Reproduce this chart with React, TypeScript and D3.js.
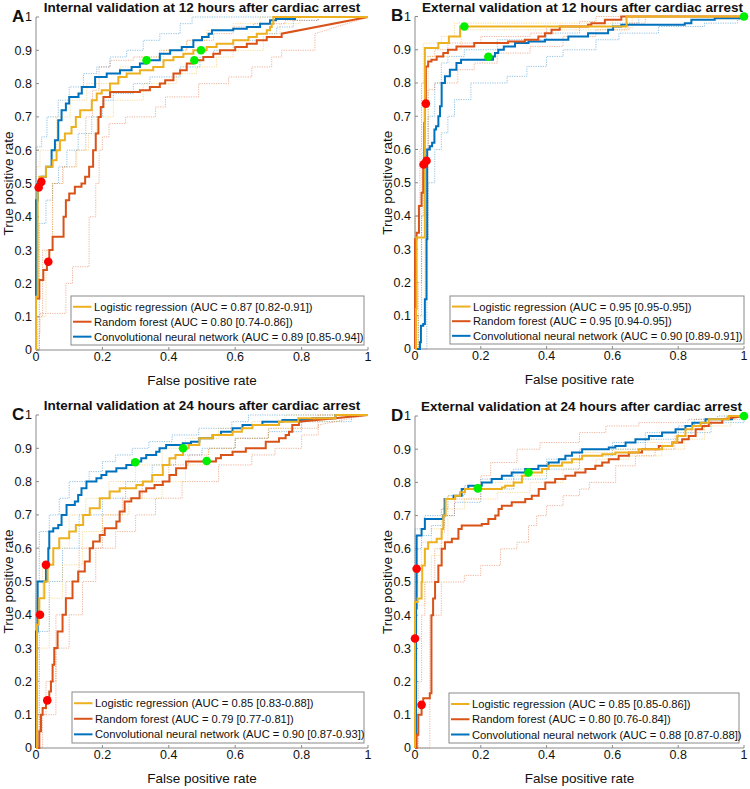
import React from "react";
import * as d3 from "d3";

type P = number[];

// ---------- Panel A: internal validation, 12 h ----------
const aLR: P[] = [[0,0],[0,0.16],[0.005,0.49],[0.01,0.52],[0.03,0.55],[0.05,0.57],[0.062,0.6],[0.072,0.63],[0.087,0.65],[0.107,0.67],[0.12,0.7],[0.133,0.72],[0.168,0.75],[0.183,0.77],[0.198,0.78],[0.223,0.8],[0.248,0.82],[0.273,0.83],[0.313,0.84],[0.353,0.85],[0.384,0.87],[0.414,0.88],[0.444,0.89],[0.474,0.9],[0.514,0.91],[0.544,0.92],[0.594,0.93],[0.64,0.94],[0.665,0.95],[0.695,0.96],[0.705,0.97],[0.71,0.98],[0.715,1],[1,1]];
const aRF: P[] = [[0,0],[0,0.155],[0.01,0.21],[0.022,0.24],[0.033,0.265],[0.04,0.3],[0.05,0.34],[0.083,0.4],[0.09,0.45],[0.1,0.47],[0.117,0.49],[0.137,0.5],[0.148,0.52],[0.16,0.55],[0.172,0.6],[0.18,0.65],[0.188,0.7],[0.195,0.73],[0.203,0.76],[0.223,0.775],[0.313,0.78],[0.343,0.79],[0.373,0.8],[0.389,0.81],[0.414,0.83],[0.434,0.84],[0.454,0.86],[0.474,0.87],[0.504,0.88],[0.534,0.89],[0.554,0.9],[0.6,0.91],[0.635,0.92],[0.665,0.93],[0.695,0.94],[0.74,0.95],[1,1,1]];
const aCNN: P[] = [[0,0],[0,0.45],[0.005,0.5],[0.017,0.52],[0.03,0.55],[0.047,0.6],[0.057,0.63],[0.067,0.69],[0.077,0.72],[0.09,0.74],[0.1,0.76],[0.128,0.77],[0.138,0.79],[0.178,0.82],[0.213,0.83],[0.253,0.84],[0.288,0.85],[0.313,0.86],[0.333,0.87],[0.373,0.89],[0.404,0.9],[0.439,0.91],[0.474,0.93],[0.5,0.94],[0.52,0.95],[0.53,0.96],[0.594,0.965],[0.635,0.97],[0.675,0.98],[0.705,0.99],[0.723,0.994],[0.78,1],[1,1]];
const aLRlo: P[] = [[0,0],[0.01,0.1],[0.03,0.3],[0.05,0.5],[0.083,0.55],[0.123,0.6],[0.158,0.65],[0.183,0.7],[0.233,0.75],[0.323,0.8],[0.424,0.83],[0.484,0.85],[0.544,0.88],[0.594,0.9],[0.685,0.95],[0.735,0.98],[0.795,1],[1,1]];
const aLRhi: P[] = [[0,0],[0,0.55],[0.012,0.6],[0.062,0.7],[0.103,0.75],[0.153,0.8],[0.253,0.85],[0.313,0.88],[0.384,0.9],[0.454,0.93],[0.514,0.96],[0.594,0.98],[0.675,1],[1,1]];
const aRFlo: P[] = [[0,0],[0.01,0.05],[0.012,0.11],[0.09,0.2],[0.11,0.25],[0.16,0.4],[0.18,0.5],[0.19,0.6],[0.2,0.64],[0.22,0.68],[0.27,0.7],[0.36,0.73],[0.39,0.76],[0.49,0.8],[0.58,0.82],[0.65,0.85],[0.71,0.88],[0.74,0.9],[0.84,0.95],[1,1,1]];
const aRFhi: P[] = [[0,0],[0.005,0.1],[0.02,0.3],[0.05,0.5],[0.08,0.55],[0.12,0.6],[0.15,0.7],[0.17,0.78],[0.19,0.85],[0.223,0.87],[0.293,0.88],[0.373,0.9],[0.454,0.93],[0.535,0.95],[0.594,0.97],[0.655,0.98],[0.75,0.99],[0.85,1],[1,1]];
const aCNNlo: P[] = [[0,0],[0.01,0.38],[0.03,0.45],[0.05,0.5],[0.068,0.55],[0.093,0.6],[0.127,0.65],[0.168,0.7],[0.2,0.75],[0.233,0.77],[0.293,0.8],[0.343,0.82],[0.434,0.85],[0.494,0.88],[0.535,0.9],[0.594,0.93],[0.665,0.95],[0.725,0.97],[0.775,0.99],[0.85,1],[1,1]];
const aCNNhi: P[] = [[0,0],[0,0.61],[0.017,0.64],[0.033,0.7],[0.067,0.75],[0.1,0.79],[0.143,0.83],[0.183,0.85],[0.223,0.88],[0.273,0.9],[0.323,0.93],[0.373,0.95],[0.434,0.98],[0.47,1],[1,1]];
const aRed: P[] = [[0.008,0.488],[0.016,0.505],[0.037,0.265]];
const aGreen: P[] = [[0.333,0.87],[0.477,0.87],[0.497,0.9]];
const aAUC = ["0.87 [0.82-0.91]", "0.80 [0.74-0.86]", "0.89 [0.85-0.94]"];

// ---------- Panel B: external validation, 12 h ----------
const bLR: P[] = [[0,0],[0.003,0.12],[0.005,0.335],[0.03,0.905],[0.071,0.92],[0.103,0.94],[0.137,0.97],[0.643,1],[1,1]];
const bRF: P[] = [[0,0],[0,0.33],[0.005,0.35],[0.012,0.43],[0.02,0.47],[0.025,0.55],[0.028,0.68],[0.03,0.74],[0.033,0.85],[0.04,0.865],[0.05,0.87],[0.066,0.88],[0.086,0.89],[0.1,0.9],[0.126,0.91],[0.18,0.92],[0.283,0.925],[0.334,0.93],[0.375,0.94],[0.395,0.95],[0.415,0.96],[0.44,0.97],[0.526,0.975],[0.536,0.98],[0.577,0.99],[0.627,1],[1,1]];
const bCNN: P[] = [[0,0],[0.01,0],[0.015,0.02],[0.018,0.07],[0.025,0.075],[0.03,0.15],[0.035,0.33],[0.037,0.6],[0.045,0.61],[0.052,0.62],[0.059,0.66],[0.064,0.67],[0.071,0.7],[0.076,0.73],[0.081,0.8],[0.091,0.82],[0.106,0.84],[0.126,0.86],[0.14,0.87],[0.237,0.88],[0.243,0.89],[0.253,0.9],[0.27,0.91],[0.304,0.92],[0.345,0.925],[0.395,0.93],[0.466,0.94],[0.526,0.95],[0.587,0.96],[0.602,0.97],[0.627,0.975],[0.82,0.98],[0.84,0.99],[0.911,0.995],[1,1]];
const bLRlo: P[] = [[0,0],[0.01,0.1],[0.03,0.33],[0.04,0.88],[0.1,0.9],[0.14,0.96],[0.64,0.965],[0.66,1],[1,1]];
const bLRhi: P[] = [[0,0],[0,0.4],[0.02,0.8],[0.025,0.92],[0.08,0.94],[0.12,0.98],[0.6,0.99],[0.64,1],[1,1]];
const bRFlo: P[] = [[0,0],[0.01,0.2],[0.02,0.4],[0.03,0.6],[0.04,0.78],[0.06,0.8],[0.13,0.84],[0.18,0.86],[0.25,0.89],[0.35,0.91],[0.45,0.94],[0.55,0.96],[0.65,0.98],[0.7,1],[1,1]];
const bRFhi: P[] = [[0,0],[0,0.4],[0.015,0.6],[0.02,0.8],[0.03,0.88],[0.06,0.9],[0.1,0.92],[0.2,0.94],[0.35,0.95],[0.4,0.97],[0.5,0.985],[0.55,1],[1,1]];
const bCNNlo: P[] = [[0,0],[0.035,0],[0.036,0.33],[0.04,0.5],[0.06,0.6],[0.08,0.65],[0.1,0.7],[0.12,0.75],[0.17,0.8],[0.28,0.82],[0.34,0.85],[0.4,0.88],[0.45,0.9],[0.55,0.93],[0.62,0.95],[0.74,0.97],[0.88,0.98],[0.98,0.99],[1,1]];
const bCNNhi: P[] = [[0,0],[0.01,0.1],[0.02,0.4],[0.025,0.6],[0.04,0.7],[0.06,0.8],[0.08,0.86],[0.1,0.88],[0.15,0.9],[0.25,0.93],[0.4,0.95],[0.5,0.97],[0.6,0.98],[0.68,1],[1,1]];
const bRed: P[] = [[0.026,0.555],[0.035,0.566],[0.033,0.738]];
const bGreen: P[] = [[0.15,0.97],[0.223,0.879],[1,1]];
const bAUC = ["0.95 [0.95-0.95]", "0.95 [0.94-0.95]", "0.90 [0.89-0.91]"];

// ---------- Panel C: internal validation, 24 h ----------
const cLR: P[] = [[0,0],[0.003,0.37],[0.008,0.4],[0.01,0.45],[0.025,0.5],[0.035,0.55],[0.052,0.6],[0.07,0.63],[0.1,0.65],[0.12,0.67],[0.142,0.7],[0.162,0.72],[0.192,0.75],[0.222,0.77],[0.252,0.78],[0.302,0.79],[0.322,0.8],[0.35,0.82],[0.382,0.85],[0.402,0.87],[0.42,0.88],[0.443,0.9],[0.46,0.91],[0.492,0.93],[0.532,0.94],[0.592,0.95],[0.62,0.96],[0.652,0.97],[0.732,0.98],[0.79,0.99],[0.902,1],[1,1]];
const cRF: P[] = [[0,0],[0.005,0],[0.01,0.05],[0.015,0.1],[0.02,0.12],[0.03,0.14],[0.04,0.17],[0.045,0.2],[0.05,0.25],[0.055,0.3],[0.065,0.35],[0.08,0.4],[0.09,0.45],[0.11,0.5],[0.127,0.53],[0.147,0.56],[0.162,0.6],[0.172,0.62],[0.192,0.64],[0.207,0.66],[0.242,0.68],[0.252,0.71],[0.267,0.74],[0.287,0.75],[0.312,0.77],[0.332,0.78],[0.357,0.79],[0.382,0.8],[0.402,0.82],[0.422,0.84],[0.452,0.86],[0.542,0.87],[0.557,0.88],[0.592,0.89],[0.632,0.9],[0.692,0.92],[0.732,0.93],[0.752,0.94],[0.762,0.95],[0.772,0.97],[0.792,0.98],[1,1,1]];
const cCNN: P[] = [[0,0],[0,0.35],[0.005,0.5],[0.03,0.55],[0.037,0.6],[0.04,0.65],[0.052,0.66],[0.067,0.67],[0.077,0.7],[0.092,0.73],[0.117,0.74],[0.127,0.76],[0.137,0.78],[0.152,0.8],[0.182,0.81],[0.197,0.82],[0.212,0.83],[0.242,0.84],[0.272,0.85],[0.29,0.86],[0.317,0.87],[0.332,0.88],[0.362,0.89],[0.372,0.9],[0.392,0.91],[0.442,0.915],[0.467,0.92],[0.492,0.93],[0.532,0.94],[0.557,0.95],[0.592,0.96],[0.622,0.97],[0.682,0.98],[0.742,0.985],[0.832,0.99],[0.902,1],[1,1]];
const cLRlo: P[] = [[0,0],[0.01,0.3],[0.04,0.45],[0.08,0.55],[0.14,0.65],[0.2,0.7],[0.28,0.75],[0.38,0.8],[0.45,0.85],[0.52,0.9],[0.6,0.93],[0.7,0.96],[0.8,0.98],[0.92,1],[1,1]];
const cLRhi: P[] = [[0,0],[0,0.45],[0.02,0.55],[0.04,0.6],[0.1,0.7],[0.15,0.75],[0.22,0.8],[0.3,0.85],[0.38,0.9],[0.45,0.93],[0.55,0.96],[0.65,0.98],[0.75,1],[1,1]];
const cRFlo: P[] = [[0,0],[0.02,0.1],[0.06,0.3],[0.1,0.4],[0.14,0.5],[0.18,0.6],[0.24,0.65],[0.3,0.7],[0.36,0.75],[0.44,0.8],[0.55,0.85],[0.65,0.88],[0.72,0.9],[0.8,0.94],[0.85,0.97],[1,1,1]];
const cRFhi: P[] = [[0,0],[0.01,0.1],[0.03,0.2],[0.06,0.4],[0.09,0.5],[0.13,0.6],[0.2,0.7],[0.26,0.75],[0.32,0.8],[0.4,0.85],[0.46,0.88],[0.52,0.9],[0.6,0.93],[0.7,0.96],[0.85,1],[1,1]];
const cCNNlo: P[] = [[0,0],[0.01,0.35],[0.04,0.5],[0.08,0.6],[0.13,0.7],[0.2,0.75],[0.27,0.8],[0.35,0.85],[0.42,0.88],[0.5,0.9],[0.6,0.93],[0.7,0.95],[0.8,0.98],[0.95,1],[1,1]];
const cCNNhi: P[] = [[0,0],[0,0.5],[0.01,0.65],[0.04,0.7],[0.07,0.75],[0.1,0.8],[0.16,0.83],[0.2,0.86],[0.24,0.88],[0.29,0.9],[0.34,0.92],[0.41,0.94],[0.49,0.96],[0.59,0.98],[0.64,1],[1,1]];
const cRed: P[] = [[0.012,0.4],[0.03,0.55],[0.034,0.143]];
const cGreen: P[] = [[0.299,0.858],[0.443,0.9],[0.514,0.862]];
const cAUC = ["0.85 [0.83-0.88]", "0.79 [0.77-0.81]", "0.90 [0.87-0.93]"];

// ---------- Panel D: external validation, 24 h ----------
const dLR: P[] = [[0,0],[0,0.44],[0.008,0.45],[0.02,0.5],[0.022,0.55],[0.03,0.6],[0.04,0.62],[0.066,0.63],[0.081,0.66],[0.086,0.7],[0.093,0.75],[0.122,0.76],[0.137,0.77],[0.152,0.78],[0.264,0.785],[0.274,0.79],[0.3,0.8],[0.325,0.82],[0.345,0.83],[0.386,0.84],[0.406,0.85],[0.447,0.86],[0.477,0.87],[0.508,0.88],[0.569,0.885],[0.609,0.89],[0.68,0.9],[0.751,0.91],[0.782,0.92],[0.797,0.94],[0.822,0.96],[0.843,0.97],[0.868,0.98],[0.893,0.99],[0.954,1],[1,1]];
const dRF: P[] = [[0,0],[0.005,0.04],[0.01,0.1],[0.02,0.13],[0.025,0.15],[0.045,0.165],[0.05,0.4],[0.055,0.45],[0.061,0.5],[0.071,0.55],[0.081,0.6],[0.091,0.62],[0.112,0.63],[0.132,0.66],[0.142,0.67],[0.203,0.675],[0.223,0.69],[0.244,0.7],[0.254,0.72],[0.264,0.73],[0.294,0.74],[0.335,0.75],[0.355,0.76],[0.376,0.78],[0.396,0.8],[0.426,0.81],[0.457,0.82],[0.487,0.83],[0.518,0.84],[0.548,0.85],[0.569,0.86],[0.589,0.87],[0.619,0.88],[0.65,0.89],[0.69,0.9],[0.741,0.91],[0.782,0.92],[0.812,0.93],[0.832,0.94],[0.853,0.96],[0.873,0.97],[0.893,0.98],[0.934,0.99],[1,1,1]];
const dCNN: P[] = [[0,0],[0.003,0.42],[0.005,0.64],[0.02,0.66],[0.03,0.69],[0.085,0.7],[0.09,0.75],[0.117,0.76],[0.142,0.78],[0.162,0.79],[0.203,0.8],[0.233,0.81],[0.264,0.82],[0.294,0.83],[0.335,0.84],[0.375,0.85],[0.406,0.86],[0.437,0.87],[0.457,0.88],[0.477,0.89],[0.508,0.9],[0.589,0.905],[0.609,0.91],[0.64,0.92],[0.67,0.93],[0.711,0.94],[0.751,0.95],[0.792,0.96],[0.822,0.97],[0.843,0.98],[0.883,0.99],[0.964,1],[1,1]];
const dLRlo: P[] = [[0,0],[0.005,0.43],[0.03,0.5],[0.05,0.58],[0.08,0.62],[0.1,0.72],[0.15,0.75],[0.25,0.77],[0.35,0.8],[0.45,0.84],[0.55,0.87],[0.65,0.88],[0.75,0.9],[0.82,0.93],[0.88,0.97],[0.96,1],[1,1]];
const dLRhi: P[] = [[0,0],[0,0.47],[0.01,0.55],[0.02,0.62],[0.05,0.66],[0.08,0.72],[0.1,0.76],[0.15,0.78],[0.2,0.8],[0.3,0.82],[0.4,0.86],[0.5,0.89],[0.6,0.9],[0.7,0.92],[0.8,0.96],[0.88,0.99],[0.94,1],[1,1]];
const dRFlo: P[] = [[0,0],[0.045,0.4],[0.08,0.5],[0.15,0.52],[0.2,0.55],[0.26,0.6],[0.31,0.62],[0.345,0.67],[0.37,0.7],[0.4,0.73],[0.45,0.76],[0.5,0.78],[0.53,0.8],[0.61,0.85],[0.67,0.88],[0.73,0.9],[0.79,0.94],[0.84,0.97],[0.9,0.99],[1,1]];
const dRFhi: P[] = [[0,0],[0.01,0.2],[0.02,0.4],[0.03,0.5],[0.06,0.6],[0.08,0.65],[0.09,0.7],[0.12,0.75],[0.2,0.82],[0.23,0.86],[0.31,0.9],[0.38,0.92],[0.5,0.95],[0.58,0.97],[0.68,0.98],[0.83,0.99],[0.95,1],[1,1]];
const dCNNlo: P[] = [[0,0],[0.005,0.6],[0.02,0.64],[0.05,0.67],[0.09,0.7],[0.12,0.74],[0.2,0.78],[0.3,0.81],[0.4,0.84],[0.5,0.88],[0.6,0.9],[0.7,0.93],[0.8,0.95],[0.9,0.98],[1,1]];
const dCNNhi: P[] = [[0,0],[0,0.66],[0.03,0.7],[0.08,0.72],[0.1,0.76],[0.15,0.79],[0.2,0.81],[0.3,0.84],[0.4,0.87],[0.5,0.9],[0.6,0.92],[0.7,0.95],[0.8,0.97],[0.85,0.99],[0.92,1],[1,1]];
const dRed: P[] = [[0.005,0.54],[0,0.33],[0.02,0.13]];
const dGreen: P[] = [[0.191,0.782],[0.345,0.83],[1,1]];
const dAUC = ["0.85 [0.85-0.86]", "0.80 [0.76-0.84]", "0.88 [0.87-0.88]"];

const modelNames = ["Logistic regression", "Random forest", "Convolutional neural network"];
const titles = [
  "Internal validation at 12 hours after cardiac arrest",
  "External validation at 12 hours after cardiac arrest",
  "Internal validation at 24 hours after cardiac arrest",
  "External validation at 24 hours after cardiac arrest",
];
const letters = ["A", "B", "C", "D"];
const xTicks = [0, 0.2, 0.4, 0.6, 0.8, 1];
const yTicks = [0, 0.1, 0.2, 0.3, 0.4, 0.5, 0.6, 0.7, 0.8, 0.9, 1];

const COLORS = ["#EDB120", "#D95319", "#0072BD"];
const FONT = "'Liberation Sans', Arial, Helvetica, sans-serif";

const panelData = [
  { curves: [aLR, aRF, aCNN], lo: [aLRlo, aRFlo, aCNNlo], hi: [aLRhi, aRFhi, aCNNhi], red: aRed, green: aGreen, auc: aAUC },
  { curves: [bLR, bRF, bCNN], lo: [bLRlo, bRFlo, bCNNlo], hi: [bLRhi, bRFhi, bCNNhi], red: bRed, green: bGreen, auc: bAUC },
  { curves: [cLR, cRF, cCNN], lo: [cLRlo, cRFlo, cCNNlo], hi: [cLRhi, cRFhi, cCNNhi], red: cRed, green: cGreen, auc: cAUC },
  { curves: [dLR, dRF, dCNN], lo: [dLRlo, dRFlo, dCNNlo], hi: [dLRhi, dRFhi, dCNNhi], red: dRed, green: dGreen, auc: dAUC },
];

const layouts = [
  { l: 36, r: 368, t: 17, b: 350, lx: 71, ly: 296, lw: 293, lh: 49, tdx: 0 },
  { l: 415, r: 744, t: 16.5, b: 349, lx: 450, ly: 296, lw: 294, lh: 48, tdx: 3 },
  { l: 36, r: 368, t: 415, b: 748, lx: 72, ly: 692, lw: 292, lh: 51, tdx: 0 },
  { l: 415, r: 744, t: 416, b: 748, lx: 449, ly: 693, lw: 290, lh: 50, tdx: 2 },
];

function stepPath(pts: P[], x: d3.ScaleLinear<number, number>, y: d3.ScaleLinear<number, number>) {
  const p = d3.path();
  pts.forEach((d, i) => {
    const px = x(d[0]);
    const py = y(d[1]);
    if (i === 0) p.moveTo(px, py);
    else if (d[2]) p.lineTo(px, py);
    else {
      p.lineTo(px, y(pts[i - 1][1]));
      p.lineTo(px, py);
    }
  });
  return p.toString();
}

function Panel({ idx }: { idx: number }) {
  const L = layouts[idx];
  const D = panelData[idx];
  const x = d3.scaleLinear().domain([0, 1]).range([L.l, L.r]);
  const y = d3.scaleLinear().domain([0, 1]).range([L.b, L.t]);
  const axisColor = "#8a8a8a";
  const order = [2, 1, 0];
  const rowOff = [0.22, 0.525, 0.83];
  return (
    <g>
      {order.map((k) => (
        <g key={"ci" + k}>
          <path d={stepPath(D.lo[k], x, y)} fill="none" stroke={COLORS[k]} strokeOpacity={0.55} strokeWidth={0.8} strokeDasharray="1.2 1.2" />
          <path d={stepPath(D.hi[k], x, y)} fill="none" stroke={COLORS[k]} strokeOpacity={0.55} strokeWidth={0.8} strokeDasharray="1.2 1.2" />
        </g>
      ))}
      <line x1={L.l} x2={L.l} y1={L.t} y2={L.b} stroke={axisColor} strokeWidth={1} />
      <line x1={L.l} x2={L.r} y1={L.b} y2={L.b} stroke={axisColor} strokeWidth={1} />
      {xTicks.map((t) => (
        <g key={"xt" + t}>
          <line x1={x(t)} x2={x(t)} y1={L.b} y2={L.b - 3} stroke={axisColor} />
          <text x={x(t)} y={L.b + 11} textAnchor="middle" fontSize={12.5} fontFamily={FONT} fill="#111">{String(t)}</text>
        </g>
      ))}
      {yTicks.map((t) => (
        <g key={"yt" + t}>
          <line x1={L.l} x2={L.l + 3} y1={y(t)} y2={y(t)} stroke={axisColor} />
          <text x={L.l - 4} y={y(t) + 4.4} textAnchor="end" fontSize={12.5} fontFamily={FONT} fill="#111">{String(+t.toFixed(1))}</text>
        </g>
      ))}
      <text x={(L.l + L.r) / 2} y={L.b + 35} textAnchor="middle" fontSize={13.5} fontFamily={FONT} fill="#111">False positive rate</text>
      <text transform={`translate(${L.l - 23.5},${(L.t + L.b) / 2}) rotate(-90)`} textAnchor="middle" fontSize={13.5} fontFamily={FONT} fill="#111">True positive rate</text>
      <text x={(L.l + L.r) / 2 + L.tdx} y={L.t - 5} textAnchor="middle" fontSize={13.5} fontWeight="bold" fontFamily={FONT} fill="#111">{titles[idx]}</text>
      <text x={L.l - 24} y={L.t + 4.5} fontSize={17} fontWeight="bold" fontFamily={FONT} fill="#111">{letters[idx]}</text>
      {order.map((k) => (
        <path key={"c" + k} d={stepPath(D.curves[k], x, y)} fill="none" stroke={COLORS[k]} strokeWidth={2} strokeLinejoin="miter" />
      ))}
      {D.red.map((d, i) => (
        <circle key={"r" + i} cx={x(d[0])} cy={y(d[1])} r={4.3} fill="#FF0000" />
      ))}
      {D.green.map((d, i) => (
        <circle key={"g" + i} cx={x(d[0])} cy={y(d[1])} r={4.3} fill="#00EE00" />
      ))}
      <rect x={L.lx} y={L.ly} width={L.lw} height={L.lh} fill="#fff" stroke="#8a8a8a" strokeWidth={1} />
      {modelNames.map((m, k) => {
        const cy = L.ly + L.lh * rowOff[k];
        return (
          <g key={"lg" + k}>
            <line x1={L.lx + 2} x2={L.lx + 20.5} y1={cy} y2={cy} stroke={COLORS[k]} strokeWidth={2} />
            <text x={L.lx + 23} y={cy + 4} fontSize={11.2} fontFamily={FONT} fill="#111">{`${m} (AUC = ${D.auc[k]})`}</text>
          </g>
        );
      })}
    </g>
  );
}

export default function App() {
  return (
    <svg width={750} height={789} style={{ position: "absolute", left: 0, top: 0, background: "#fff" }}>
      <rect x={0} y={0} width={750} height={789} fill="#fff" />
      {[0, 1, 2, 3].map((i) => (
        <Panel key={i} idx={i} />
      ))}
    </svg>
  );
}
